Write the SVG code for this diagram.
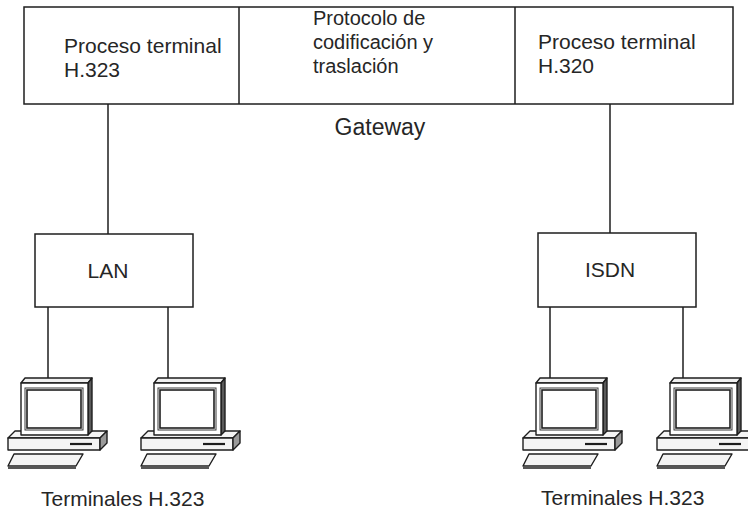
<svg xmlns="http://www.w3.org/2000/svg" xmlns:xlink="http://www.w3.org/1999/xlink" width="748" height="516" viewBox="0 0 748 516">
  <style>
    .box { fill: #ffffff; stroke: #1e1e1e; stroke-width: 1.5; }
    .wire { stroke: #1e1e1e; stroke-width: 1.5; fill: none; }
    .lbl { font-family: "Liberation Sans", Arial, sans-serif; fill: #262626; }
    .pc-line { stroke: #1e1e1e; stroke-width: 1.4; stroke-linejoin: round; }
  </style>
  <defs>
    <!-- desktop computer: origin at left edge of the system unit, top of monitor -->
    <g id="pc">
      <!-- system unit -->
      <polygon class="pc-line" points="0,60 7,53 99,53 92,60" fill="#f4f4f4"/>
      <rect class="pc-line" x="0" y="60" width="92" height="12" fill="#f4f4f4"/>
      <polygon class="pc-line" points="92,60 99,53 99,65 92,72" fill="#9a9a9a"/>
      <line x1="62" y1="66" x2="84" y2="66" stroke="#1e1e1e" stroke-width="2.2"/>
      <!-- keyboard -->
      <polygon class="pc-line" points="6,76 75,76 68,88 0,88" fill="#f4f4f4"/>
      <line x1="0" y1="90" x2="68" y2="90" stroke="#1e1e1e" stroke-width="1.6"/>
      <!-- monitor -->
      <polygon class="pc-line" points="13,5 17,0 84,0 80,5" fill="#f0f0f0"/>
      <polygon class="pc-line" points="80,5 84,0 84,53 80,57" fill="#5a5a5a"/>
      <rect class="pc-line" x="13" y="5" width="67" height="52" fill="#ffffff" stroke-width="1.8"/>
      <rect x="17" y="10" width="58" height="42" fill="none" stroke="#3a3a3a" stroke-width="1"/>
      <rect x="19" y="12" width="54" height="38" fill="#ffffff" stroke="#1e1e1e" stroke-width="1.6"/>
    </g>
  </defs>

  <!-- connectors -->
  <g id="connectors">
    <line class="wire" x1="108" y1="104" x2="108" y2="234"/>
    <line class="wire" x1="610" y1="104" x2="610" y2="233"/>
    <line class="wire" x1="48" y1="302" x2="48" y2="378"/>
    <line class="wire" x1="168" y1="302" x2="168" y2="383"/>
    <line class="wire" x1="550" y1="301" x2="550" y2="378"/>
    <line class="wire" x1="683" y1="301" x2="683" y2="378"/>
  </g>

  <!-- gateway -->
  <g id="gateway">
    <rect class="box" x="24" y="7" width="709" height="97"/>
    <line class="wire" x1="239" y1="7" x2="239" y2="104"/>
    <line class="wire" x1="515" y1="7" x2="515" y2="104"/>
    <text class="lbl" x="380" y="135" font-size="23" text-anchor="middle">Gateway</text>
  </g>

  <g id="h323-process">
    <text class="lbl" font-size="21"><tspan x="64" y="53">Proceso terminal</tspan><tspan x="64" y="77">H.323</tspan></text>
  </g>

  <g id="translation-protocol">
    <text class="lbl" font-size="20"><tspan x="313" y="25">Protocolo de</tspan><tspan x="313" y="49">codificación y</tspan><tspan x="313" y="73">traslación</tspan></text>
  </g>

  <g id="h320-process">
    <text class="lbl" font-size="21"><tspan x="538" y="49">Proceso terminal</tspan><tspan x="538" y="73">H.320</tspan></text>
  </g>

  <g id="lan">
    <rect class="box" x="35" y="234" width="158" height="73"/>
    <text class="lbl" x="108" y="278" font-size="21" text-anchor="middle">LAN</text>
  </g>

  <g id="isdn">
    <rect class="box" x="538" y="233" width="158" height="74"/>
    <text class="lbl" x="610" y="277" font-size="21" text-anchor="middle">ISDN</text>
  </g>

  <g id="lan-terminals">
    <use xlink:href="#pc" x="8" y="378"/>
    <use xlink:href="#pc" x="141" y="378"/>
    <text class="lbl" x="41" y="506" font-size="21">Terminales H.323</text>
  </g>

  <g id="isdn-terminals">
    <use xlink:href="#pc" x="523" y="378"/>
    <use xlink:href="#pc" x="657" y="378"/>
    <text class="lbl" x="541" y="505" font-size="21">Terminales H.323</text>
  </g>
</svg>
